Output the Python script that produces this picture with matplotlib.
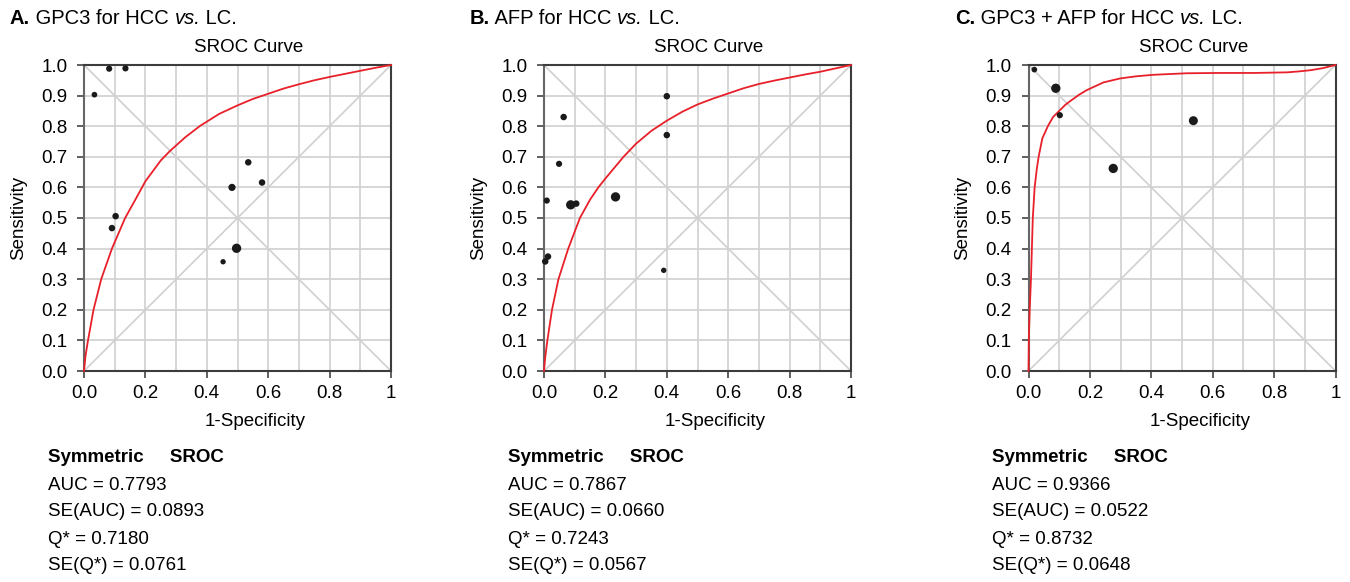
import numpy as np
import matplotlib
matplotlib.use("Agg")
from matplotlib import pyplot as plt

plt.rcParams['font.family'] = ['Liberation Sans', 'DejaVu Sans']

# panel titles (bold letter, text, italic part, tail)
titles = [("A.", "GPC3 for HCC ", "vs.", " LC."),
          ("B.", "AFP for HCC ", "vs.", " LC."),
          ("C.", "GPC3 + AFP for HCC ", "vs.", " LC.")]

# study points: 1-specificity, sensitivity, marker weight
a_fpr = [0.082, 0.135, 0.034, 0.535, 0.482, 0.580, 0.497, 0.453, 0.103, 0.091]
a_sens = [0.988, 0.989, 0.903, 0.682, 0.600, 0.616, 0.401, 0.357, 0.506, 0.467]
a_size = [20, 20, 17, 22, 27, 22, 45, 15, 22, 22]

b_fpr = [0.400, 0.064, 0.400, 0.049, 0.009, 0.087, 0.105, 0.233, 0.013, 0.004, 0.390]
b_sens = [0.898, 0.830, 0.771, 0.677, 0.557, 0.543, 0.547, 0.569, 0.374, 0.358, 0.329]
b_size = [22, 22, 22, 20, 20, 45, 22, 45, 22, 22, 15]

c_fpr = [0.019, 0.089, 0.102, 0.537, 0.276]
c_sens = [0.985, 0.924, 0.836, 0.818, 0.662]
c_size = [17, 45, 20, 42, 45]

# SROC curves
a_curve_x = [0, 0.005, 0.013, 0.031, 0.056, 0.091, 0.134, 0.170, 0.200, 0.250, 0.280, 0.330, 0.378, 0.440,
             0.500, 0.550, 0.600, 0.650, 0.700, 0.750, 0.800, 0.850, 0.900, 0.950, 1.0]
a_curve_y = [0, 0.050, 0.100, 0.200, 0.300, 0.400, 0.500, 0.565, 0.620, 0.688, 0.719, 0.764, 0.801, 0.840,
             0.868, 0.889, 0.906, 0.923, 0.937, 0.950, 0.961, 0.971, 0.981, 0.991, 1.0]

b_curve_x = [0, 0.004, 0.011, 0.026, 0.047, 0.079, 0.117, 0.150, 0.177, 0.200, 0.259, 0.300, 0.350, 0.400,
             0.450, 0.500, 0.550, 0.600, 0.650, 0.700, 0.750, 0.800, 0.850, 0.900, 0.950, 1.0]
b_curve_y = [0, 0.045, 0.100, 0.200, 0.300, 0.400, 0.500, 0.560, 0.600, 0.629, 0.700, 0.743, 0.785, 0.818,
             0.847, 0.871, 0.890, 0.907, 0.924, 0.938, 0.949, 0.959, 0.969, 0.978, 0.989, 1.0]

c_curve_x = [0, 0.001, 0.004, 0.008, 0.011, 0.014, 0.020, 0.027, 0.033, 0.045, 0.063, 0.080, 0.102, 0.120,
             0.140, 0.165, 0.190, 0.244, 0.298, 0.350, 0.407, 0.516, 0.625, 0.734, 0.843, 0.880, 0.919, 0.960, 1.0]
c_curve_y = [0, 0.100, 0.200, 0.300, 0.400, 0.500, 0.600, 0.660, 0.700, 0.760, 0.800, 0.830, 0.852, 0.870,
             0.885, 0.903, 0.918, 0.943, 0.956, 0.963, 0.968, 0.973, 0.974, 0.974, 0.976, 0.979, 0.983, 0.990, 1.0]

# summary statistics
auc = ["0.7793", "0.7867", "0.9366"]
se_auc = ["0.0893", "0.0660", "0.0522"]
q_star = ["0.7180", "0.7243", "0.8732"]
se_q = ["0.0761", "0.0567", "0.0648"]

panels = [(a_fpr, a_sens, a_size, a_curve_x, a_curve_y),
          (b_fpr, b_sens, b_size, b_curve_x, b_curve_y),
          (c_fpr, c_sens, c_size, c_curve_x, c_curve_y)]

W, H = 1350, 582
fig = plt.figure(figsize=(13.5, 5.82), dpi=100)
lefts = [84, 544, 1028.5]
grid_c = '#d0d0d0'
AW, AH = 307, 306

for i, (fx, sy, sz, cx, cy) in enumerate(panels):
    L = lefts[i]
    ax = fig.add_axes([L / W, 1 - 371 / H, AW / W, AH / H])
    ax.set_xlim(0, 1)
    ax.set_ylim(0, 1)
    ax.set_xticks(np.arange(0, 1.01, 0.2))
    ax.set_xticklabels(["0.0", "0.2", "0.4", "0.6", "0.8", "1"])
    ax.set_xticks(np.arange(0, 1.01, 0.1), minor=True)
    ax.set_yticks(np.arange(0, 1.01, 0.1))
    ax.set_yticklabels(["%.1f" % v for v in np.arange(0, 1.01, 0.1)])
    ax.grid(True, which='both', color=grid_c, lw=1.2, zorder=0)
    ax.tick_params(which='minor', length=0)
    ax.tick_params(which='major', direction='out', length=5, width=1.2,
                   color='#444444', labelsize=13.5)
    ax.tick_params(axis='y', pad=7)
    ax.tick_params(axis='x', pad=5)
    ax.plot([0, 1], [0, 1], color=grid_c, lw=1.2, zorder=1)
    ax.plot([0, 1], [1, 0], color=grid_c, lw=1.2, zorder=1)
    ax.plot(cx, cy, color='#e8202a', lw=1.3, zorder=3, clip_on=False)
    ax.scatter(fx, sy, s=sz, color='#1a1a1a', zorder=4, clip_on=False, linewidths=0)
    for sp in ax.spines.values():
        sp.set_color('#3c3c3c')
        sp.set_linewidth(1.5)
    ax.spines['left'].set_color('#666666')

    ax.text(0.537, (371 - 48) / AH, "SROC Curve", transform=ax.transAxes,
            fontsize=13.5, ha='center', va='center')
    ax.set_xlabel("1-Specificity", fontsize=13.5)
    ax.xaxis.set_label_coords(0.559, -(413 - 371) / AH)
    ax.set_ylabel("Sensitivity", fontsize=13.5)
    ax.yaxis.set_label_coords((27 - 84) / AW, 0.5)

    # stats block
    tx = (L - 36) / W
    fig.text(tx, 1 - 458 / H, "Symmetric     SROC", fontsize=13.5,
             fontweight='bold', va='center')
    lines = ["AUC = " + auc[i], "SE(AUC) = " + se_auc[i],
             "Q* = " + q_star[i], "SE(Q*) = " + se_q[i]]
    for k, s in enumerate(lines):
        fig.text(tx, 1 - (485 + 27 * k) / H, s, fontsize=13.5, va='center')

# panel titles, pieced together
fig.canvas.draw()
renderer = fig.canvas.get_renderer()
title_x = [10, 470, 955]
for i, (lab, txt, ital, tail) in enumerate(titles):
    x = title_x[i]
    for s, kw in [(lab, dict(fontweight='bold')), (" " + txt, {}),
                  (ital, dict(style='italic')), (tail, {})]:
        t = fig.text(x / W, 1 - 18 / H, s, fontsize=14.5, va='center', **kw)
        bb = t.get_window_extent(renderer)
        x += bb.width

fig.savefig("out.png", dpi=100)
